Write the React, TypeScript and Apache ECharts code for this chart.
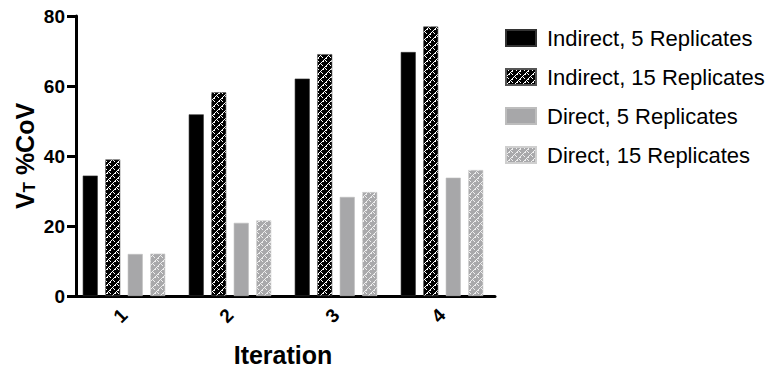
import React, { useEffect, useRef } from "react";
import * as echarts from "echarts";

const categories = ["1", "2", "3", "4"];
const seriesNames = [
  "Indirect, 5 Replicates",
  "Indirect, 15 Replicates",
  "Direct, 5 Replicates",
  "Direct, 15 Replicates",
];
const indirect5 = [34.4, 51.9, 62.1, 69.7];
const indirect15 = [39.0, 58.2, 69.1, 77.0];
const direct5 = [12.0, 20.9, 28.3, 33.8];
const direct15 = [12.1, 21.6, 29.7, 36.0];
const yTicks = { min: 0, max: 80, interval: 20 };

const FONT = "'Liberation Sans', Arial, Helvetica, sans-serif";

function makePattern(bg: string, fg: string) {
  const size = 8;
  const c = document.createElement("canvas");
  c.width = size;
  c.height = size;
  const ctx = c.getContext("2d")!;
  ctx.fillStyle = bg;
  ctx.fillRect(0, 0, size, size);
  ctx.fillStyle = fg;
  // diagonal staircase lines with short cross breaks (brick look)
  const pts = [
    [7, 0], [6, 1], [6, 2], [5, 2], [4, 3], [3, 4], [3, 5], [2, 5], [1, 6], [0, 7],
    [1, 0], [2, 1], [5, 4], [6, 5],
  ];
  pts.forEach(([x, y]) => ctx.fillRect(x, y, 1, 1));
  return {
    image: c.toDataURL(),
    repeat: "repeat",
    imageWidth: size,
    imageHeight: size,
  } as any;
}

export default function App() {
  const ref = useRef<HTMLDivElement>(null);
  useEffect(() => {
    document.body.style.margin = "0";
    if (!ref.current) return;
    const chart = echarts.init(ref.current, undefined, { renderer: "svg" });
    const darkHatch = makePattern("#000000", "#ffffff");
    const lightHatch = makePattern("#a9a9ab", "#eeeeee");
    const colors = ["#000000", darkHatch, "#a7a7a9", lightHatch];
    const borders = ["#333333", "#555555", "#bdbdbd", "#cfcfcf"];
    const datas = [indirect5, indirect15, direct5, direct15];
    chart.setOption({
      animation: false,
      backgroundColor: "#ffffff",
      grid: { left: 71, right: 276, top: 16, bottom: 76, containLabel: false },
      legend: {
        orient: "vertical",
        left: 500,
        top: 22,
        itemWidth: 30,
        itemHeight: 16,
        itemGap: 17,
        icon: "rect",
        textStyle: {
          fontFamily: FONT,
          fontSize: 22,
          lineHeight: 22,
          color: "#000",
          padding: [0, 0, 0, 6],
        },
        data: seriesNames,
      },
      xAxis: {
        type: "category",
        data: categories,
        name: "Iteration",
        nameLocation: "middle",
        nameGap: 46,
        nameTextStyle: {
          fontFamily: FONT,
          fontSize: 25,
          fontWeight: "bold",
          color: "#000",
        },
        axisLine: { lineStyle: { color: "#000", width: 3 } },
        axisTick: { alignWithLabel: true, length: 9, lineStyle: { color: "#000", width: 3 } },
        axisLabel: {
          rotate: 45,
          margin: 16,
          fontFamily: FONT,
          fontSize: 19,
          fontWeight: "bold",
          color: "#000",
        },
        splitLine: { show: false },
      },
      yAxis: {
        type: "value",
        min: yTicks.min,
        max: yTicks.max,
        interval: yTicks.interval,
        offset: -5,
        name: "{v|V}{s|T}{v| %CoV}",
        nameLocation: "middle",
        nameGap: 38,
        nameMoveOverlap: false,
        nameRotate: 90,
        nameTextStyle: {
          rich: {
            v: {
              fontFamily: FONT,
              fontSize: 25,
              fontWeight: "bold",
              color: "#000",
            },
            s: {
              fontFamily: FONT,
              fontSize: 17,
              fontWeight: "bold",
              color: "#000",
              verticalAlign: "bottom",
              padding: [10, 0, 0, 0],
            },
          },
        },
        axisLine: { show: true, lineStyle: { color: "#000", width: 3 } },
        axisTick: { show: true, length: 9, lineStyle: { color: "#000", width: 3 } },
        axisLabel: {
          margin: 11,
          fontFamily: FONT,
          fontSize: 19,
          fontWeight: "bold",
          color: "#000",
        },
        splitLine: { show: false },
      },
      series: seriesNames.map((name, i) => ({
        name,
        type: "bar",
        data: datas[i],
        barWidth: 15,
        barGap: "50%",
        itemStyle: {
          color: colors[i],
          borderColor: borders[i],
          borderWidth: 0.6,
        },
      })),
    });
    return () => chart.dispose();
  }, []);
  return <div ref={ref} style={{ width: 771, height: 372 }} />;
}
